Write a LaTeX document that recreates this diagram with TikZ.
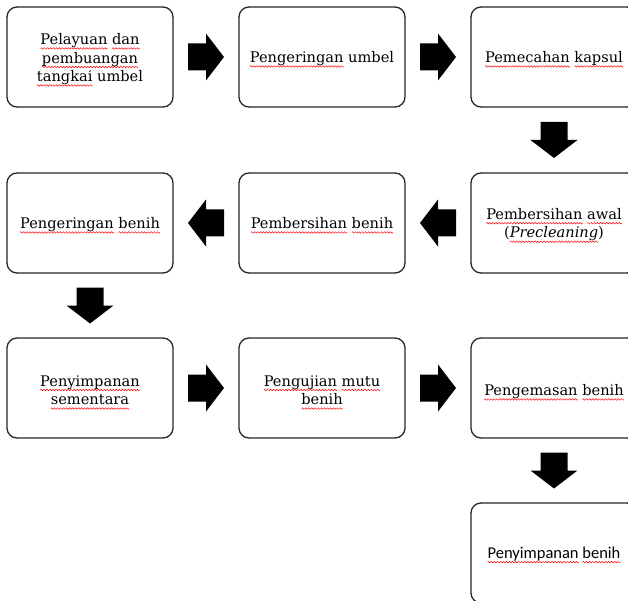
\documentclass[tikz,border=0pt]{standalone}
\usepackage{fontspec}
\setmainfont{DejaVu Serif}
\newfontfamily\calibrifont{Carlito}
\usetikzlibrary{calc}
\newsavebox\wavebox
\newcommand\rw[1]{\leavevmode\setbox0\hbox{#1}\rlap{\raisebox{-4.8pt}{\hbox to \wd0{\xleaders\copy\wavebox\hfill}}}\box0\relax}
\tikzset{
  stepbox/.style={draw=black!85, line width=1.3pt, rounded corners=10pt,
    minimum width=166pt, minimum height=100pt, inner sep=0pt},
  boxtext/.style={inner sep=0pt, align=center, font=\fontsize{14.6}{18.5}\selectfont},
  rarrow/.pic={\fill (-18,-13.5) -- (0,-13.5) -- (0,-23.5) -- (18,0) -- (0,23.5) -- (0,13.5) -- (-18,13.5) -- cycle;},
  larrow/.pic={\fill (18,-13.5) -- (0,-13.5) -- (0,-23.5) -- (-18,0) -- (0,23.5) -- (0,13.5) -- (18,13.5) -- cycle;},
  darrow/.pic={\fill (-13.5,-18) -- (13.5,-18) -- (13.5,0) -- (23.5,0) -- (0,18) -- (-23.5,0) -- (-13.5,0) -- cycle;}
}
\begin{document}
\sbox\wavebox{\begin{pgfpicture}%
\pgfpathrectangle{\pgfpointorigin}{\pgfpoint{3pt}{2pt}}\pgfusepath{use as bounding box}%
\pgfsetlinewidth{0.5pt}\pgfsetstrokecolor{red}%
\pgfpathmoveto{\pgfpoint{0pt}{1pt}}%
\pgfpathsine{\pgfpoint{0.75pt}{0.75pt}}%
\pgfpathcosine{\pgfpoint{0.75pt}{-0.75pt}}%
\pgfpathsine{\pgfpoint{0.75pt}{-0.75pt}}%
\pgfpathcosine{\pgfpoint{0.75pt}{0.75pt}}%
\pgfusepath{stroke}%
\end{pgfpicture}}%
\begin{tikzpicture}[x=1pt,y=-1pt]
\useasboundingbox (0,0) rectangle (628,601);
\clip (0,0) rectangle (628,601);
\fill[white] (0,0) rectangle (628,601);
% boxes
\node[stepbox] (b1) at (90,57) {};
\node[stepbox] (b2) at (322,57) {};
\node[stepbox] (b3) at (554,57) {};
\node[stepbox] (b4) at (554,223) {};
\node[stepbox] (b5) at (322,223) {};
\node[stepbox] (b6) at (90,223) {};
\node[stepbox] (b7) at (90,388) {};
\node[stepbox] (b8) at (322,388) {};
\node[stepbox] (b9) at (554,388) {};
\node[stepbox] (b10) at (554,553) {};
% texts
\node[boxtext] (t1) at ([yshift=-3pt]b1.center) {\rw{Pelayuan} \rw{dan}\\\rw{pembuangan}\\\rw{tangkai} umbel};
\node[boxtext] (t2) at ([yshift=-2.5pt]b2.center) {\rw{Pengeringan} umbel};
\node[boxtext] (t3) at ([yshift=-2.5pt]b3.center) {\rw{Pemecahan} \rw{kapsul}};
\node[boxtext] (t4) at ([yshift=-2.5pt]b4.center) {\rw{Pembersihan} \rw{awal}\\(\rw{\textit{Precleaning}})};
\node[boxtext] (t5) at ([yshift=-2.5pt]b5.center) {\rw{Pembersihan} \rw{benih}};
\node[boxtext] (t6) at ([yshift=-2.5pt]b6.center) {\rw{Pengeringan} \rw{benih}};
\node[boxtext] (t7) at ([yshift=-4.5pt]b7.center) {\rw{Penyimpanan}\\\rw{sementara}};
\node[boxtext] (t8) at ([yshift=-4.5pt]b8.center) {\rw{Pengujian} \rw{mutu}\\\rw{benih}};
\node[boxtext] (t9) at ([yshift=-4.5pt]b9.center) {\rw{Pengemasan} \rw{benih}};
\node[boxtext, font=\calibrifont\fontsize{16.5}{19}\selectfont] (t10) at ([yshift=-2pt]b10.center) {\rw{Penyimpanan} \rw{benih}};
% arrows
\pic at ($(b1.east)!0.5!(b2.west)$) {rarrow};
\pic at ($(b2.east)!0.5!(b3.west)$) {rarrow};
\pic at ($(b3.south)!0.5!(b4.north)$) {darrow};
\pic at ($(b5.east)!0.5!(b4.west)$) {larrow};
\pic at ($(b6.east)!0.5!(b5.west)$) {larrow};
\pic at ($(b6.south)!0.5!(b7.north)$) {darrow};
\pic at ($(b7.east)!0.5!(b8.west)$) {rarrow};
\pic at ($(b8.east)!0.5!(b9.west)$) {rarrow};
\pic at ($(b9.south)!0.5!(b10.north)$) {darrow};
\end{tikzpicture}
\end{document}
